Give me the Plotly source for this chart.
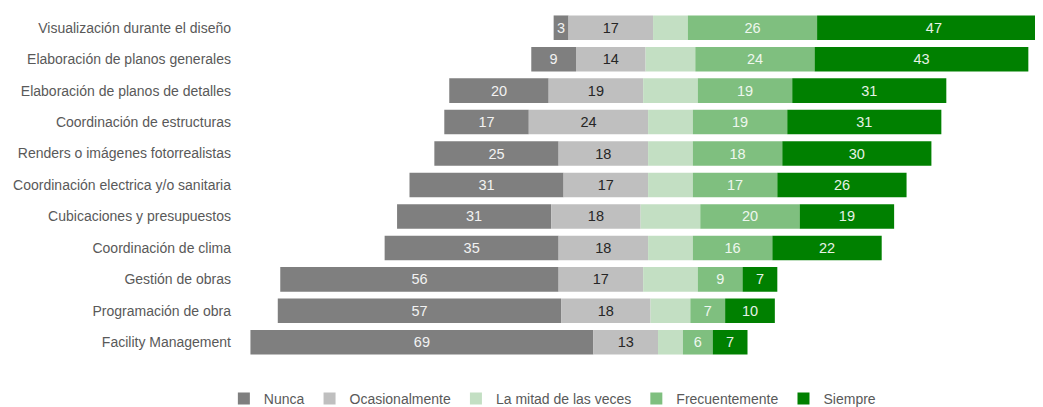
import plotly.graph_objects as go

# ---------------- Data ----------------
tareas = [
    "Visualización durante el diseño",
    "Elaboración de planos generales",
    "Elaboración de planos de detalles",
    "Coordinación de estructuras",
    "Renders o imágenes fotorrealistas",
    "Coordinación electrica y/o sanitaria",
    "Cubicaciones y presupuestos",
    "Coordinación de clima",
    "Gestión de obras",
    "Programación de obra",
    "Facility Management",
]
nunca = [3, 9, 20, 17, 25, 31, 31, 35, 56, 57, 69]
ocasionalmente = [17, 14, 19, 24, 18, 17, 18, 18, 17, 18, 13]
mitad = [7, 10, 11, 9, 9, 9, 12, 9, 11, 8, 5]
frecuentemente = [26, 24, 19, 19, 18, 17, 20, 16, 9, 7, 6]
siempre = [47, 43, 31, 31, 30, 26, 19, 22, 7, 10, 7]

FONT = "Liberation Sans, Arial, sans-serif"
C_NUNCA = "#7f7f7f"
C_OCAS = "#bfbfbf"
C_MITAD = "#c3dfc3"
C_FREC = "#7fbf7f"
C_SIEMPRE = "#008000"

# diverging layout: "La mitad de las veces" is centred on zero
base_mitad = [-m / 2 for m in mitad]
base_ocas = [b - o for b, o in zip(base_mitad, ocasionalmente)]
base_nunca = [b - n for b, n in zip(base_ocas, nunca)]
base_frec = [m / 2 for m in mitad]
base_siempre = [b + f for b, f in zip(base_frec, frecuentemente)]

fig = go.Figure()


def add_bar(values, base, name, color, text_color, show_text=True):
    fig.add_trace(go.Bar(
        y=tareas,
        x=values,
        base=base,
        name=name,
        orientation="h",
        marker=dict(color=color, line=dict(width=0)),
        text=values if show_text else None,
        texttemplate="%{text}" if show_text else None,
        textposition="inside" if show_text else "none",
        insidetextanchor="middle",
        constraintext="none",
        textfont=dict(family=FONT, size=14.5, color=text_color),
        hovertemplate="%{y}<br>" + name + ": %{x}<extra></extra>",
    ))


add_bar(nunca, base_nunca, "Nunca", C_NUNCA, "#f2f2f2")
add_bar(ocasionalmente, base_ocas, "Ocasionalmente", C_OCAS, "#262626")
add_bar(mitad, base_mitad, "La mitad de las veces", C_MITAD, "#555555", show_text=False)
add_bar(frecuentemente, base_frec, "Frecuentemente", C_FREC, "#eef7ee")
add_bar(siempre, base_siempre, "Siempre", C_SIEMPRE, "#e6f2e6")

fig.update_layout(
    barmode="overlay",
    bargap=0.22,
    width=1035,
    height=399,
    margin=dict(l=232, r=0, t=4, b=49),
    paper_bgcolor="white",
    plot_bgcolor="white",
    font=dict(family=FONT, size=14, color="#595959"),
    legend=dict(
        orientation="h",
        x=0.389, xanchor="center",
        y=0.02, yanchor="middle", yref="container",
        font=dict(family=FONT, size=14, color="#595959"),
        itemwidth=30,
        traceorder="normal",
    ),
    xaxis=dict(visible=False, range=[-86.6, 74.95], fixedrange=True),
    yaxis=dict(
        autorange="reversed",
        showgrid=False,
        showline=False,
        zeroline=False,
        ticks="",
        ticklabelstandoff=8,
        tickfont=dict(family=FONT, size=14, color="#595959"),
    ),
)

fig.write_html("out.html")
